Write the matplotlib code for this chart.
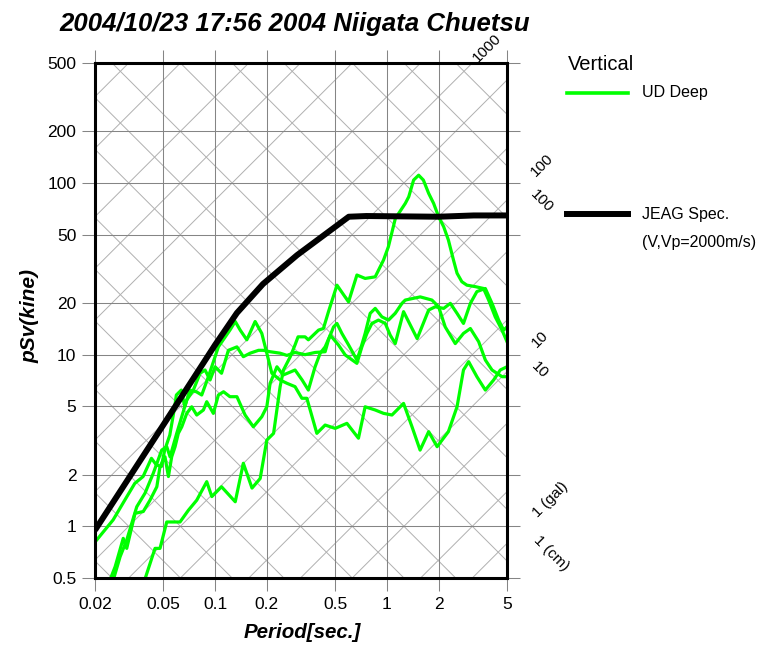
import numpy as np
import matplotlib.pyplot as plt
from matplotlib.lines import Line2D
from matplotlib.ticker import FixedLocator, FixedFormatter, NullLocator

plt.rcParams['font.family'] = ['Liberation Sans', 'DejaVu Sans']

W, H = 767, 646

period_ticks = [0.02, 0.05, 0.1, 0.2, 0.5, 1, 2, 5]
period_labels = ['0.02', '0.05', '0.1', '0.2', '0.5', '1', '2', '5']
psv_ticks = [0.5, 1, 2, 5, 10, 20, 50, 100, 200, 500]
psv_labels = ['0.5', '1', '2', '5', '10', '20', '50', '100', '200', '500']

# JEAG design spectrum (vertical, Vp=2000m/s)
jeag_T = [0.02, 0.05, 0.1, 0.134, 0.19, 0.3, 0.6, 0.76, 2.0, 3.2, 5.0]
jeag_sv = [0.95, 3.9, 11.4, 17.5, 25.8, 38.0, 63.6, 64.2, 63.6, 64.7, 64.7]

# UD Deep records (4 stations), period [s] / pSv [kine]
ud1_T = [0.02, 0.0255, 0.0298, 0.0341, 0.0381, 0.0426, 0.0455, 0.0487, 0.0509, 0.0545,
         0.0582, 0.0595, 0.0636, 0.0666, 0.0712, 0.0778, 0.0836, 0.0914, 0.1045, 0.122,
         0.131, 0.14, 0.153, 0.171, 0.187, 0.2, 0.214, 0.239, 0.262, 0.292,
         0.32, 0.342, 0.391, 0.437, 0.5, 0.585, 0.683, 0.747, 0.855, 0.956,
         1.07, 1.25, 1.4, 1.56, 1.75, 1.96, 2.28, 2.56, 2.79, 2.99,
         3.34, 3.74, 4.18, 4.57, 5.0]
ud1_sv = [0.81, 1.09, 1.42, 1.78, 1.95, 2.49, 2.28, 2.23, 2.78, 3.40,
          4.97, 5.82, 6.22, 4.97, 6.22, 6.08, 5.82, 7.44, 11.1, 13.9,
          15.6, 13.9, 12.2, 15.6, 13.3, 10.2, 7.79, 7.12, 6.81, 6.51,
          5.57, 5.57, 3.48, 3.89, 3.72, 3.98, 3.26, 4.97, 4.76, 4.55,
          4.45, 5.20, 3.80, 2.78, 3.56, 2.91, 3.56, 4.97, 8.14, 9.10,
          7.44, 6.22, 7.12, 8.14, 8.50]

ud2_T = [0.039, 0.0447, 0.0478, 0.0523, 0.0625, 0.0699, 0.0782, 0.0894, 0.0957, 0.109,
         0.131, 0.146, 0.164, 0.183, 0.2, 0.219, 0.239, 0.25, 0.274, 0.292,
         0.304, 0.334, 0.349, 0.4, 0.427, 0.457, 0.512, 0.598, 0.669, 0.747,
         0.855, 0.956, 1.02, 1.12, 1.28, 1.34, 1.43, 1.53, 1.63, 1.75,
         1.87, 2.0, 2.14, 2.28, 2.44, 2.56, 2.73, 2.92, 3.27, 3.65,
         3.91, 4.27, 4.68, 5.0]
ud2_sv = [0.49, 0.744, 0.744, 1.06, 1.06, 1.24, 1.42, 1.82, 1.49, 1.70,
          1.39, 2.33, 1.67, 1.90, 3.18, 3.48, 6.5, 8.14, 9.73, 11.4,
          12.7, 12.7, 12.2, 13.9, 14.2, 17.8, 25.4, 20.3, 29.1, 27.8,
          28.4, 35.6, 42.5, 62.2, 76.1, 83.1, 104, 111, 104, 87,
          76.1, 63.6, 55.6, 46.5, 35.6, 29.8, 26.6, 25.4, 24.9, 24.3,
          20.8, 16.6, 13.9, 11.9]

ud3_T = [0.0245, 0.0262, 0.0292, 0.0306, 0.0342, 0.0382, 0.0418, 0.0458, 0.0478, 0.0511,
         0.0535, 0.0559, 0.0585, 0.0611, 0.064, 0.0684, 0.0731, 0.0782, 0.0855, 0.0894,
         0.0977, 0.1045, 0.112, 0.122, 0.134, 0.1495, 0.167, 0.187, 0.2, 0.209,
         0.229, 0.249, 0.274, 0.292, 0.321, 0.349, 0.382, 0.409, 0.437, 0.468,
         0.522, 0.572, 0.628, 0.669, 0.715, 0.765, 0.818, 0.893, 0.978, 1.045,
         1.118, 1.25, 1.5, 1.75, 1.91, 2.14, 2.34, 2.56, 2.79, 3.06,
         3.34, 3.74, 4.09, 4.47, 4.78, 5.0]
ud3_sv = [0.49, 0.582, 0.851, 0.744, 1.19, 1.22, 1.42, 1.70, 2.23, 2.54,
          1.95, 2.54, 2.91, 3.48, 3.80, 4.55, 4.97, 4.45, 4.76, 5.32,
          4.55, 5.82, 6.08, 5.69, 5.69, 4.45, 3.80, 4.35, 4.97, 6.81,
          8.50, 7.61, 7.92, 8.14, 7.12, 6.22, 8.50, 10.2, 11.1, 13.0,
          11.4, 9.96, 9.31, 8.90, 11.1, 13.3, 15.2, 15.9, 15.2, 13.0,
          11.6, 17.8, 12.4, 18.2, 19.0, 18.6, 19.9, 17.4, 15.2, 19.9,
          23.3, 24.3, 19.9, 15.9, 13.9, 14.5]

ud4_T = [0.0256, 0.028, 0.0306, 0.035, 0.0391, 0.0437, 0.0489, 0.0523, 0.0547, 0.0598,
         0.0684, 0.0747, 0.0818, 0.0874, 0.0935, 0.1, 0.109, 0.1195, 0.134, 0.146,
         0.16, 0.179, 0.191, 0.209, 0.239, 0.262, 0.292, 0.334, 0.382, 0.437, 0.457,
         0.489, 0.512, 0.547, 0.598, 0.669, 0.699, 0.747, 0.799, 0.855, 0.935,
         1.022, 1.118, 1.223, 1.278, 1.563, 1.828, 2.0, 2.185, 2.5, 2.79,
         3.06, 3.42, 3.74, 4.09, 4.68, 5.0]
ud4_sv = [0.49, 0.665, 0.832, 1.30, 1.56, 2.04, 2.78, 2.91, 2.54, 3.48,
          5.44, 6.22, 7.79, 8.14, 7.12, 8.50, 7.79, 10.6, 11.1, 9.73,
          10.2, 10.6, 10.6, 10.4, 10.2, 9.9, 10.3, 10.0, 10.3, 10.4, 12.2,
          14.5, 15.2, 13.3, 11.4, 9.31, 10.6, 13.3, 17.4, 18.6, 16.6,
          15.9, 17.4, 19.9, 20.8, 21.7, 20.8, 19.0, 14.5, 11.6, 13.3,
          14.2, 11.9, 9.31, 8.14, 7.44, 7.44]

# tripartite grid: acceleration [gal] and displacement [cm] levels
acc_levels = [k * 10.0 ** e for e in range(-1, 6) for k in (1, 2, 5)]
disp_levels = [k * 10.0 ** e for e in range(-4, 3) for k in (1, 2, 5)]
# labelled lines: (value, period where label sits, text)
acc_marks = [(1, 9.0, '1 (gal)'), (10, 7.75, '10'), (100, 8.0, '100'), (1000, 3.85, '1000')]
disp_marks = [(1, 9.0, '1 (cm)'), (10, 7.75, '10'), (100, 8.0, '100')]

fig = plt.figure(figsize=(W / 100, H / 100), dpi=100)
ax = fig.add_axes([95 / W, 68 / H, 412 / W, 515 / H])
ax.set_xscale('log')
ax.set_yscale('log')

grid_c = '#858585'
diag_c = '#b0b0b0'
Tg = np.array([0.005, 20.0])
for a in acc_levels:
    ax.plot(Tg, a * Tg / (2 * np.pi), color=diag_c, lw=0.7, zorder=1)
for d in disp_levels:
    ax.plot(Tg, 2 * np.pi * d / Tg, color=diag_c, lw=0.7, zorder=1)

for t in period_ticks:
    ax.axvline(t, color=grid_c, lw=0.75, zorder=1.5)
for s in psv_ticks:
    ax.axhline(s, color=grid_c, lw=0.75, zorder=1.5)

for T, sv in [(ud1_T, ud1_sv), (ud2_T, ud2_sv), (ud3_T, ud3_sv), (ud4_T, ud4_sv)]:
    ax.plot(T, sv, color='#00ff00', lw=2.3, zorder=3, solid_joinstyle='round')
ax.plot(jeag_T, jeag_sv, color='black', lw=4.3, zorder=4, solid_capstyle='butt')

ax.set_xlim(0.02, 5)
ax.set_ylim(0.5, 500)

for a, tl, txt in acc_marks:
    ax.text(tl, a * tl / (2 * np.pi), txt, rotation=45, rotation_mode='anchor',
            ha='center', va='center', fontsize=11, clip_on=False)
for d, tl, txt in disp_marks:
    ax.text(tl, 2 * np.pi * d / tl, txt, rotation=-45, rotation_mode='anchor',
            ha='center', va='center', fontsize=11, clip_on=False)

ax.xaxis.set_major_locator(FixedLocator(period_ticks))
ax.xaxis.set_major_formatter(FixedFormatter(period_labels))
ax.yaxis.set_major_locator(FixedLocator(psv_ticks))
ax.yaxis.set_major_formatter(FixedFormatter(psv_labels))
ax.xaxis.set_minor_locator(NullLocator())
ax.yaxis.set_minor_locator(NullLocator())
ax.tick_params(which='major', direction='out', length=9.5, width=0.75, color=grid_c,
               top=True, right=True, labelsize=12.5, pad=4)
for sp in ax.spines.values():
    sp.set_linewidth(2.2)
    sp.set_zorder(5)

fig.text(295 / W, 1 - 24 / H, '2004/10/23 17:56 2004 Niigata Chuetsu', ha='center', va='center',
         fontsize=18.5, fontweight='bold', style='italic')
fig.text(302 / W, 1 - 633 / H, 'Period[sec.]', ha='center', va='center',
         fontsize=14.8, fontweight='bold', style='italic')
fig.text(30 / W, 1 - 316 / H, 'pSv(kine)', ha='center', va='center', rotation=90,
         fontsize=15, fontweight='bold', style='italic')

# legend block on the right
fig.text(568 / W, 1 - 64 / H, 'Vertical', ha='left', va='center', fontsize=14.5)
fig.add_artist(Line2D([567 / W, 628 / W], [1 - 93 / H, 1 - 93 / H], color='#00ff00', lw=2.6))
fig.text(642 / W, 1 - 93 / H, 'UD Deep', ha='left', va='center', fontsize=11.5)
fig.add_artist(Line2D([567 / W, 628 / W], [1 - 214 / H, 1 - 214 / H], color='black', lw=4.3))
fig.text(642 / W, 1 - 214 / H, 'JEAG Spec.', ha='left', va='center', fontsize=11.5)
fig.text(642 / W, 1 - 243 / H, '(V,Vp=2000m/s)', ha='left', va='center', fontsize=11.5)

fig.savefig('out.png', dpi=100)
